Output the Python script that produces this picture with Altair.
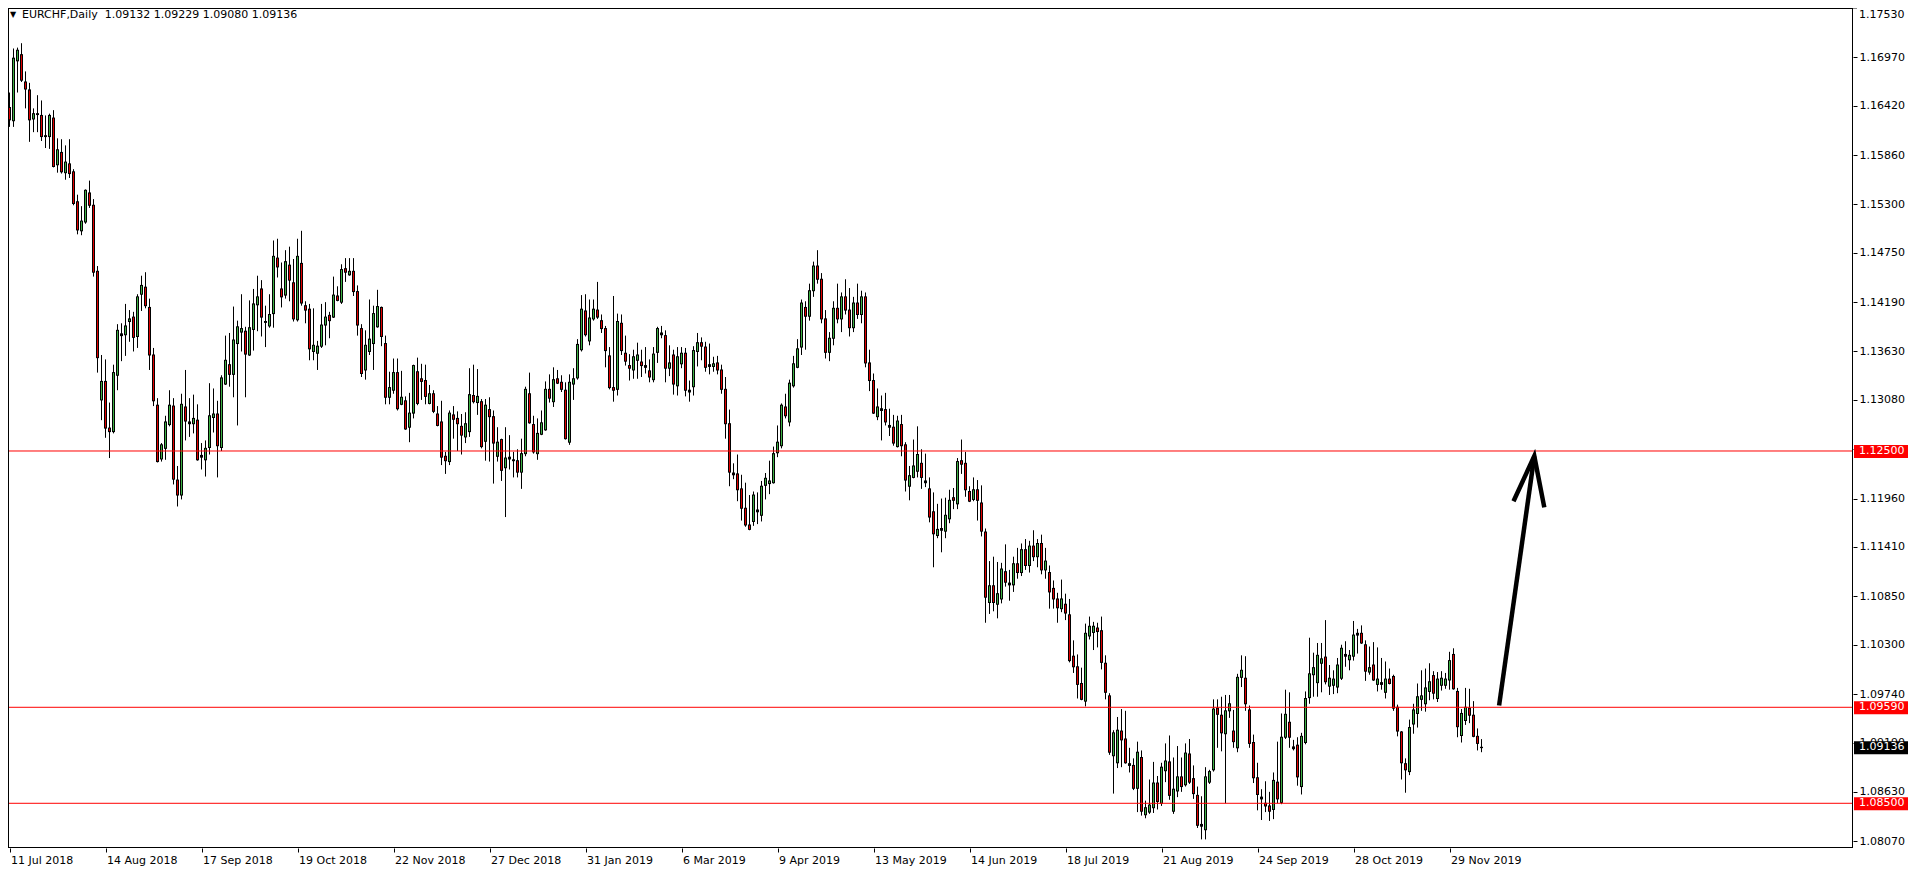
import altair as alt
import pandas as pd

# EURCHF daily candles, prices in units of 0.0001
open_pips = [
11640,11625,11693,11700,11669,11660,11627,11633,11631,11607,
11607,11628,11575,11589,11566,11576,11567,11533,11500,11510,
11543,11529,11454,11308,11329,11276,11272,11336,11383,11382,
11397,11402,11380,11428,11436,11413,11359,11302,11241,11253,
11280,11301,11217,11200,11300,11283,11281,11285,11245,11240,
11254,11288,11292,11254,11326,11348,11337,11372,11385,11386,
11359,11388,11416,11434,11397,11392,11406,11469,11434,11427,
11461,11441,11399,11463,11415,11411,11363,11361,11369,11393,
11404,11402,11426,11419,11457,11450,11454,11431,11389,11342,
11363,11372,11391,11413,11372,11311,11319,11339,11303,11307,
11277,11293,11340,11332,11330,11304,11315,11292,11283,11244,
11238,11291,11287,11278,11266,11272,11313,11305,11306,11261,
11297,11289,11244,11263,11231,11243,11240,11239,11226,11247,
11315,11280,11247,11269,11274,11320,11306,11332,11328,11319,
11260,11326,11333,11365,11409,11375,11400,11410,11398,11389,
11358,11322,11320,11395,11361,11347,11342,11353,11351,11347,
11341,11331,11362,11384,11381,11344,11359,11324,11349,11361,
11319,11323,11363,11373,11368,11348,11346,11350,11342,11320,
11281,11225,11224,11207,11185,11166,11170,11183,11177,11211,
11213,11214,11248,11256,11300,11283,11324,11345,11368,11413,
11403,11432,11460,11445,11400,11362,11378,11412,11400,11425,
11410,11390,11418,11405,11425,11350,11330,11289,11298,11297,
11279,11277,11255,11280,11257,11210,11220,11227,11236,11214,
11207,11181,11154,11160,11159,11173,11197,11190,11239,11236,
11204,11195,11206,11191,11158,11078,11097,11076,11082,11113,
11100,11098,11122,11112,11138,11120,11142,11130,11145,11115,
11112,11094,11082,11071,11076,11064,11017,11005,10986,10966,
11040,11044,11049,11046,11009,10972,10904,10896,10932,10923,
10895,10893,10867,10902,10837,10840,10845,10873,10850,10887,
10897,10841,10864,10880,10871,10906,10878,10859,10826,10820,
10874,10888,10958,10950,10929,10955,10932,10913,10993,10992,
10956,10919,10879,10855,10850,10847,10843,10874,10851,10925,
10942,10914,10916,10869,10919,10970,10996,10987,11009,11016,
10983,10984,10982,10992,11019,11013,11017,11043,11043,11030,
10999,11007,10985,10987,10976,10991,10994,10959,10931,10895,
10886,10940,10952,10968,10963,10977,10995,10969,10984,10984,
10990,11019,10977,10927,10944,10958,10950,10926,10913.2]

high_pips = [
11657,11707,11708,11713,11681,11668,11639,11654,11648,11631,
11633,11637,11605,11604,11597,11604,11570,11541,11528,11547,
11557,11536,11460,11359,11354,11305,11348,11394,11395,11417,
11410,11408,11428,11449,11453,11423,11367,11310,11259,11290,
11319,11310,11233,11315,11342,11310,11314,11303,11259,11262,
11327,11321,11307,11336,11381,11384,11414,11398,11428,11391,
11421,11434,11449,11444,11415,11428,11489,11491,11464,11478,
11482,11468,11491,11500,11420,11417,11412,11375,11417,11419,
11408,11448,11437,11462,11469,11469,11469,11438,11394,11387,
11422,11415,11433,11414,11381,11340,11355,11355,11341,11312,
11316,11348,11356,11349,11348,11325,11319,11301,11307,11249,
11296,11301,11295,11292,11294,11344,11348,11343,11309,11309,
11311,11296,11277,11264,11277,11268,11249,11252,11264,11323,
11339,11290,11287,11296,11329,11337,11345,11342,11336,11328,
11337,11344,11377,11427,11428,11422,11422,11442,11405,11392,
11368,11426,11406,11405,11381,11360,11365,11373,11365,11368,
11354,11368,11391,11392,11387,11370,11365,11368,11368,11367,
11330,11369,11384,11379,11374,11372,11357,11358,11348,11334,
11297,11236,11246,11223,11214,11200,11204,11203,11216,11225,
11239,11255,11279,11304,11315,11331,11358,11377,11422,11420,
11440,11465,11478,11452,11410,11385,11420,11440,11430,11445,
11435,11425,11440,11432,11430,11365,11338,11321,11313,11316,
11298,11291,11290,11291,11260,11233,11263,11278,11252,11247,
11220,11203,11190,11196,11197,11206,11208,11242,11263,11249,
11210,11220,11217,11211,11162,11125,11130,11124,11123,11144,
11115,11130,11140,11145,11150,11148,11160,11150,11155,11140,
11120,11103,11089,11104,11088,11082,11035,11019,11004,11054,
11062,11056,11055,11062,11018,10975,10933,10948,10957,10955,
10913,10901,10920,10910,10853,10877,10897,10881,10896,10918,
10927,10902,10915,10902,10918,10923,10893,10869,10858,10891,
10888,10968,10968,10971,10973,10973,10956,10997,11018,11017,
10961,10928,10896,10866,10875,10863,10885,10920,10952,10979,
10976,10922,10925,10930,10977,11038,11021,11032,11032,11058,
11007,11001,11015,11030,11034,11024,11057,11048,11052,11035,
11028,11033,11027,11015,11011,11003,10996,10962,10932,10901,
10945,10963,10986,11001,11003,11009,11000,10999,11000,10998,
11022,11026,10981,10957,10981,10980,10966,10935,10922.9]

low_pips = [
11618,11618,11657,11669,11639,11601,11612,11612,11602,11594,
11593,11572,11566,11565,11558,11560,11529,11496,11495,11508,
11526,11448,11339,11285,11265,11242,11270,11319,11352,11358,
11374,11363,11367,11409,11412,11342,11301,11237,11238,11240,
11278,11212,11187,11195,11262,11266,11270,11239,11229,11221,
11246,11271,11220,11250,11325,11323,11311,11279,11363,11311,
11358,11364,11386,11380,11368,11390,11390,11447,11413,11423,
11420,11397,11397,11415,11395,11353,11353,11342,11367,11370,
11378,11401,11420,11417,11442,11449,11426,11381,11334,11331,
11359,11342,11390,11369,11303,11303,11315,11296,11302,11274,
11260,11287,11302,11308,11303,11303,11293,11278,11234,11224,
11234,11264,11250,11246,11259,11266,11304,11291,11253,11239,
11238,11213,11238,11216,11175,11229,11220,11220,11207,11244,
11281,11247,11240,11268,11273,11305,11300,11326,11317,11263,
11257,11308,11331,11363,11380,11370,11398,11400,11384,11345,
11320,11306,11313,11359,11347,11330,11332,11332,11334,11338,
11328,11328,11350,11378,11328,11335,11314,11313,11344,11312,
11306,11313,11346,11353,11340,11337,11340,11337,11315,11264,
11210,11218,11193,11171,11164,11160,11165,11167,11170,11195,
11201,11213,11243,11253,11287,11278,11322,11344,11359,11365,
11398,11425,11440,11395,11355,11352,11370,11395,11385,11405,
11380,11385,11400,11395,11345,11318,11292,11285,11262,11279,
11267,11256,11254,11244,11204,11194,11219,11220,11207,11209,
11169,11118,11151,11135,11151,11168,11184,11184,11224,11198,
11192,11193,11171,11153,11055,11065,11068,11060,11077,11096,
11080,11090,11105,11108,11115,11112,11125,11118,11110,11105,
11071,11071,11055,11067,11058,11010,10998,10969,10967,10960,
11036,11024,11027,11002,10968,10905,10861,10890,10891,10895,
10885,10865,10840,10836,10833,10838,10839,10843,10847,10874,
10854,10838,10857,10863,10869,10872,10855,10822,10809,10809,
10872,10886,10913,10909,10850,10947,10913,10908,10982,10955,
10913,10873,10842,10831,10840,10830,10832,10850,10849,10923,
10913,10910,10870,10860,10917,10963,10971,10971,10976,10985,
10973,10974,10975,10990,11005,11001,11012,11020,11031,10989,
10996,10989,10977,10979,10969,10985,10955,10926,10877,10862,
10882,10929,10936,10955,10954,10967,10968,10965,10978,10980,
10979,10979,10925,10919,10939,10941,10925,10910,10908.0]

close_pips = [
11626,11696,11705,11671,11661,11626,11633,11632,11607,11608,
11631,11573,11592,11567,11578,11565,11531,11501,11511,11546,
11529,11453,11356,11329,11276,11272,11339,11387,11381,11392,
11400,11379,11425,11438,11415,11359,11307,11238,11257,11283,
11302,11218,11200,11303,11284,11281,11287,11240,11243,11253,
11290,11292,11256,11333,11353,11337,11376,11391,11389,11360,
11390,11417,11425,11402,11396,11405,11471,11459,11425,11465,
11444,11400,11471,11418,11410,11366,11370,11369,11393,11402,
11398,11427,11421,11456,11453,11454,11431,11393,11338,11370,
11377,11406,11414,11380,11311,11322,11339,11298,11311,11275,
11293,11347,11304,11329,11312,11315,11295,11279,11243,11239,
11293,11286,11281,11268,11281,11314,11306,11312,11255,11302,
11289,11259,11260,11228,11242,11241,11239,11226,11247,11320,
11282,11249,11270,11282,11320,11310,11331,11327,11320,11264,
11328,11332,11371,11411,11382,11401,11411,11402,11389,11364,
11322,11319,11397,11364,11352,11344,11357,11359,11347,11345,
11334,11360,11389,11382,11344,11350,11326,11357,11361,11319,
11317,11364,11373,11369,11345,11346,11349,11342,11320,11281,
11226,11223,11206,11185,11166,11161,11200,11181,11210,11219,
11216,11247,11260,11302,11290,11327,11349,11366,11418,11403,
11432,11460,11445,11400,11362,11378,11412,11400,11425,11410,
11390,11418,11405,11425,11350,11330,11293,11300,11296,11283,
11277,11259,11284,11256,11217,11222,11233,11246,11220,11216,
11175,11156,11161,11162,11177,11194,11194,11238,11235,11206,
11193,11206,11194,11159,11084,11097,11078,11088,11116,11101,
11098,11122,11112,11138,11120,11142,11130,11145,11115,11125,
11090,11082,11072,11082,11066,11012,11005,10985,10968,11043,
11051,11051,11045,11010,10976,10908,10930,10933,10922,10896,
10893,10867,10908,10841,10845,10848,10873,10852,10891,10898,
10859,10866,10880,10869,10907,10874,10861,10825,10824,10880,
10886,10957,10951,10930,10955,10963,10920,10993,11001,10963,
10918,10879,10860,10857,10847,10841,10876,10855,10925,10951,
10925,10912,10880,10926,10969,10997,11004,11018,11014,10988,
10992,10991,11007,11026,11017,11018,11041,11041,11032,11000,
11004,10990,10991,10985,10991,10986,10958,10932,10896,10888,
10936,10956,10971,10972,10981,10988,10975,10991,10992,10991,
11012,10980,10937,10952,10959,10950,10926,10918,10913.6]

date_labels = ["11 Jul 2018", "14 Aug 2018", "17 Sep 2018", "19 Oct 2018",
               "22 Nov 2018", "27 Dec 2018", "31 Jan 2019", "6 Mar 2019",
               "9 Apr 2019", "13 May 2019", "14 Jun 2019", "18 Jul 2019",
               "21 Aug 2019", "24 Sep 2019", "28 Oct 2019", "29 Nov 2019"]
label_every = 24

top_tick = 1.17530
price_ticks = [1.16970, 1.16420, 1.15860, 1.15300, 1.14750, 1.14190,
               1.13630, 1.13080, 1.12520, 1.11960, 1.11410, 1.10850, 1.10300,
               1.09740, 1.09190, 1.08630, 1.08070]

levels = [1.12500, 1.09590, 1.08500]
last_price = 1.09136

# arrow drawn on the chart (bar index, price)
arrow_i = [372.4, 381.2, 376.0, 381.2, 383.7]
arrow_p = [1.09610, 1.12442, 1.11929, 1.12442, 1.11860]
arrow_seg = [0, 0, 1, 1, 1]

title_text = "EURCHF,Daily\u00a0 1.09132 1.09229 1.09080 1.09136"

GREEN = "#3CB043"
RED = "#E00000"
LINE_RED = "#FF0000"
FONT = "DejaVu Sans"

W, H = 1845, 840

n = len(open_pips)
df = pd.DataFrame({
    "i": list(range(n)),
    "o": [v / 10000 for v in open_pips],
    "h": [v / 10000 for v in high_pips],
    "l": [v / 10000 for v in low_pips],
    "c": [v / 10000 for v in close_pips],
})
df["top"] = df[["o", "c"]].max(axis=1)
df["bot"] = df[["o", "c"]].min(axis=1)

xscale = alt.Scale(domain=[-0.375, 460.875], nice=False, zero=False)
yscale = alt.Scale(domain=[1.079924, 1.175298], nice=False, zero=False)

label_js = "[" + ",".join("'" + d + "'" for d in date_labels) + "]"
xaxis = alt.Axis(values=[k * label_every for k in range(len(date_labels))],
                 labelExpr=label_js + "[round(datum.value/" + str(label_every) + ")]",
                 orient="bottom", tickSize=4, tickColor="black", tickWidth=1,
                 labelPadding=2, labelAlign="left", labelOffset=1,
                 labelFont=FONT, labelFontSize=11, labelColor="black",
                 domain=False, grid=False, title=None,
                 labelOverlap=False, labelFlush=False, labelBound=False)
yaxis = alt.Axis(values=price_ticks, format=".5f", orient="right",
                 tickSize=4, tickColor="black", tickWidth=1, labelPadding=2,
                 labelFont=FONT, labelFontSize=11, labelColor="black",
                 domain=False, grid=False, title=None,
                 labelOverlap=False, labelFlush=False, labelBound=False)


def X(f="i"):
    return alt.X(f + ":Q", scale=xscale, axis=xaxis)


def Y(f):
    return alt.Y(f + ":Q", scale=yscale, axis=yaxis)


base = alt.Chart(df)

wicks = base.mark_rule(color="black", strokeWidth=1).encode(
    x=X(), y=Y("l"), y2="h")

bodies = base.mark_rect(color="black", xOffset=-1.5, x2Offset=1.5,
                        yOffset=-0.5, y2Offset=0.5).encode(
    x=X(), x2="i", y=Y("top"), y2="bot")

inner = base.transform_filter("datum.top - datum.bot > 0.00022").mark_rect(
    xOffset=-0.5, x2Offset=0.5, yOffset=0.5, y2Offset=-0.5).encode(
    x=X(), x2="i", y=Y("top"), y2="bot",
    color=alt.condition("datum.c >= datum.o", alt.value(GREEN), alt.value(RED)))

lv_df = pd.DataFrame({"p": levels})
lines = alt.Chart(lv_df).mark_rule(color=LINE_RED, strokeWidth=1).encode(
    y=Y("p"), x=alt.value(0), x2=alt.value(W))

box_df = pd.DataFrame({
    "p": levels + [last_price],
    "lbl": ["%.5f" % v for v in levels + [last_price]],
    "kind": ["level"] * len(levels) + ["last"],
})
boxes = alt.Chart(box_df).mark_rect(yOffset=-6, y2Offset=7).encode(
    x=alt.value(W + 1), x2=alt.value(W + 55), y=Y("p"), y2="p",
    color=alt.condition("datum.kind == 'last'", alt.value("black"), alt.value(LINE_RED)))
box_txt = alt.Chart(box_df).mark_text(align="left", baseline="middle", color="white",
                                      font=FONT, fontSize=11).encode(
    x=alt.value(W + 6), y=Y("p"), text="lbl:N")

# topmost price label sits at the very top edge: keep it readable
top_df = pd.DataFrame({"p": [top_tick], "lbl": ["%.5f" % top_tick]})
top_tick_mark = alt.Chart(top_df).mark_rule(color="black", strokeWidth=1).encode(
    y=Y("p"), x=alt.value(W), x2=alt.value(W + 4))
top_tick_txt = alt.Chart(top_df).mark_text(align="left", baseline="middle", dy=7,
                                           color="black", font=FONT, fontSize=11).encode(
    x=alt.value(W + 6), y=Y("p"), text="lbl:N")

arrow_df = pd.DataFrame({"i": arrow_i, "p": arrow_p, "seg": arrow_seg,
                         "k": list(range(len(arrow_i)))})
arrow = alt.Chart(arrow_df).mark_line(color="black", strokeWidth=4.5,
                                      strokeCap="butt", strokeJoin="miter").encode(
    x=X(), y=Y("p"), detail="seg:N", order="k:Q")

one = pd.DataFrame({"t": [title_text]})
title = alt.Chart(one).mark_text(align="left", baseline="middle", font=FONT,
                                 fontSize=11, color="black").encode(
    x=alt.value(14), y=alt.value(6.5), text="t:N")
tri = alt.Chart(one).mark_text(align="center", baseline="middle", font=FONT,
                               fontSize=8, color="black", text="\u25bc").encode(
    x=alt.value(5), y=alt.value(6.5))

frame_l = alt.Chart(one).mark_rule(color="black", strokeWidth=1).encode(
    x=alt.value(0.5), y=alt.value(0), y2=alt.value(H))
frame_r = alt.Chart(one).mark_rule(color="black", strokeWidth=1).encode(
    x=alt.value(W - 0.5), y=alt.value(0), y2=alt.value(H))
frame_t = alt.Chart(one).mark_rule(color="black", strokeWidth=1).encode(
    y=alt.value(0.5), x=alt.value(0), x2=alt.value(W))
frame_b = alt.Chart(one).mark_rule(color="black", strokeWidth=1).encode(
    y=alt.value(H - 0.5), x=alt.value(0), x2=alt.value(W))

chart = alt.layer(
    wicks, bodies, inner, lines, arrow, boxes, box_txt, top_tick_mark, top_tick_txt,
    frame_l, frame_r, frame_t, frame_b, title, tri
).properties(
    width=W, height=H,
    padding={"left": 0, "top": 0, "right": 55, "bottom": 20},
    autosize=alt.AutoSizeParams(type="none"),
    background="white",
).configure_view(stroke=None)

chart.save("out.html", embed_options={"renderer": "svg", "actions": False})
